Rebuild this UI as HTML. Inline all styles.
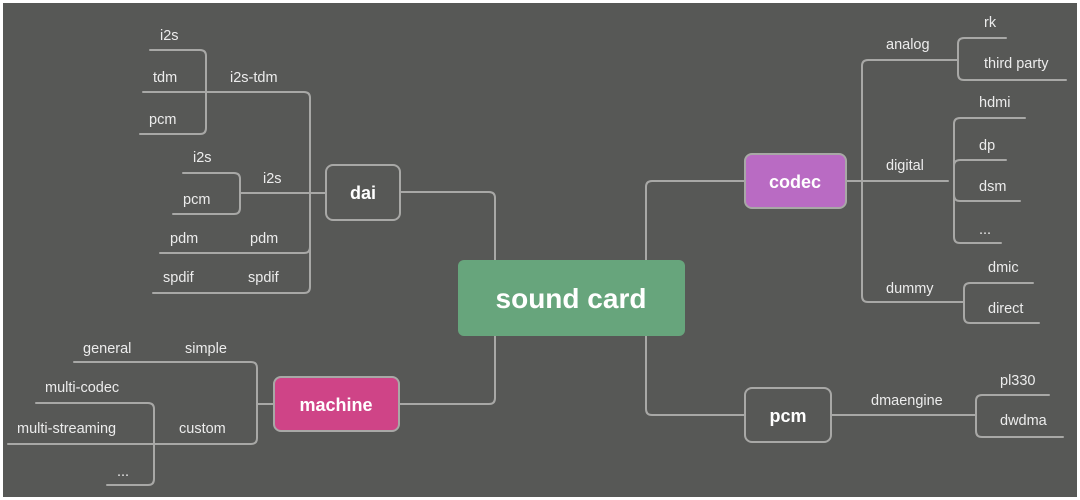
<!DOCTYPE html>
<html><head><meta charset="utf-8"><style>
html,body{margin:0;padding:0;background:#fff;}
svg{display:block;}
text{font-family:"Liberation Sans",sans-serif;fill:#ececec;font-size:14.5px;}
</style></head><body>
<svg width="1080" height="500" viewBox="0 0 1080 500">
<rect x="3" y="3" width="1074" height="494" fill="#575856"/>
<g fill="none" stroke="#a8a8a6" stroke-width="2" stroke-linecap="round">
<!-- dai -->
<path d="M400 192 H489 Q495 192 495 198 V260"/>
<path d="M143 92 H304 Q310 92 310 98 V287 Q310 293 304 293 H153"/>
<path d="M160 253 H304 Q310 253 310 247"/>
<path d="M240 193 H326"/>
<path d="M150 50 H200 Q206 50 206 56 V128 Q206 134 200 134 H140"/>
<path d="M183 173 H234 Q240 173 240 179 V208 Q240 214 234 214 H173"/>
<!-- codec -->
<path d="M745 181 H652 Q646 181 646 187 V260"/>
<path d="M846 181 H948"/>
<path d="M958 60 H868 Q862 60 862 66 V296 Q862 302 868 302 H964"/>
<path d="M1006 38 H964 Q958 38 958 44 V74 Q958 80 964 80 H1066"/>
<path d="M1025 118 H960 Q954 118 954 124 V237 Q954 243 960 243 H1001"/>
<path d="M1006 160 H960 Q954 160 954 166"/>
<path d="M1020 201 H960 Q954 201 954 195"/>
<path d="M1033 283 H970 Q964 283 964 289 V317 Q964 323 970 323 H1039"/>
<!-- pcm -->
<path d="M745 415 H652 Q646 415 646 409 V336"/>
<path d="M831 415 H976"/>
<path d="M1049 395 H982 Q976 395 976 401 V431 Q976 437 982 437 H1063"/>
<!-- machine -->
<path d="M399 404 H489 Q495 404 495 398 V336"/>
<path d="M274 404 H257"/>
<path d="M74 362 H251 Q257 362 257 368 V438 Q257 444 251 444 H8"/>
<path d="M36 403 H148 Q154 403 154 409 V479 Q154 485 148 485 H107"/>
</g>
<!-- nodes -->
<rect x="458" y="260" width="227" height="76" rx="6" fill="#67a57c"/>
<text x="571" y="308" text-anchor="middle" style="font-size:28px;font-weight:bold;fill:#fff">sound card</text>
<rect x="326" y="165" width="74" height="55" rx="7" fill="#575856" stroke="#a8a8a6" stroke-width="2"/>
<text x="363" y="199" text-anchor="middle" style="font-size:18px;font-weight:bold;fill:#fff">dai</text>
<rect x="745" y="154" width="101" height="54" rx="7" fill="#b96bc3" stroke="#a8a8a6" stroke-width="2"/>
<text x="795" y="188" text-anchor="middle" style="font-size:18px;font-weight:bold;fill:#fff">codec</text>
<rect x="274" y="377" width="125" height="54" rx="7" fill="#cf4487" stroke="#a8a8a6" stroke-width="2"/>
<text x="336" y="411" text-anchor="middle" style="font-size:18px;font-weight:bold;fill:#fff">machine</text>
<rect x="745" y="388" width="86" height="54" rx="7" fill="#575856" stroke="#a8a8a6" stroke-width="2"/>
<text x="788" y="422" text-anchor="middle" style="font-size:18px;font-weight:bold;fill:#fff">pcm</text>
<!-- labels -->
<text x="160" y="40">i2s</text>
<text x="153" y="82">tdm</text>
<text x="149" y="124">pcm</text>
<text x="230" y="82">i2s-tdm</text>
<text x="193" y="162">i2s</text>
<text x="183" y="204">pcm</text>
<text x="263" y="183">i2s</text>
<text x="170" y="243">pdm</text>
<text x="250" y="243">pdm</text>
<text x="163" y="282">spdif</text>
<text x="248" y="282">spdif</text>
<text x="886" y="49">analog</text>
<text x="984" y="27">rk</text>
<text x="984" y="68">third party</text>
<text x="886" y="170">digital</text>
<text x="979" y="107">hdmi</text>
<text x="979" y="150">dp</text>
<text x="979" y="191">dsm</text>
<text x="979" y="234">...</text>
<text x="886" y="293">dummy</text>
<text x="988" y="272">dmic</text>
<text x="988" y="313">direct</text>
<text x="871" y="405">dmaengine</text>
<text x="1000" y="385">pl330</text>
<text x="1000" y="425">dwdma</text>
<text x="83" y="353">general</text>
<text x="185" y="353">simple</text>
<text x="45" y="392">multi-codec</text>
<text x="17" y="433">multi-streaming</text>
<text x="179" y="433">custom</text>
<text x="117" y="476">...</text>
</svg>
</body></html>
